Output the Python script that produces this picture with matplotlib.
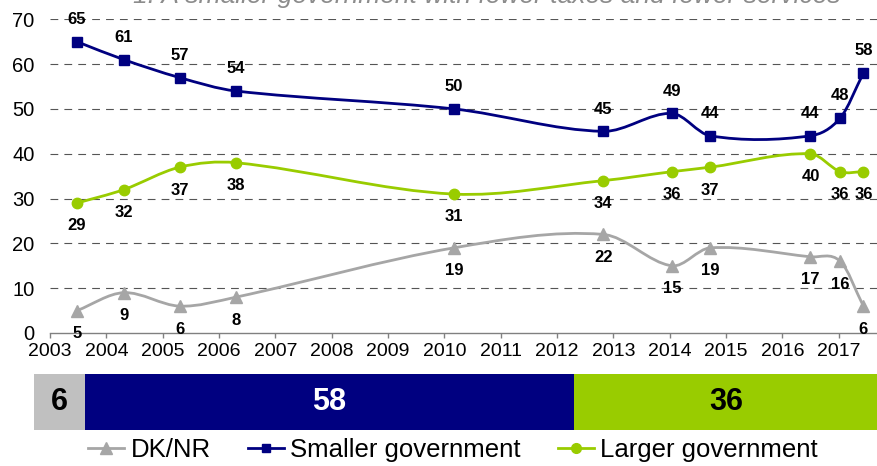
import numpy as np
import matplotlib.pyplot as plt
from matplotlib.path import Path
from matplotlib.patches import PathPatch
from matplotlib.lines import Line2D

plt.rcParams['font.family'] = ['Liberation Sans', 'DejaVu Sans']

# survey dates (decimal years) and shares (%)
dates = [2003.48, 2004.31, 2005.30, 2006.30, 2010.17, 2012.82,
         2014.04, 2014.72, 2016.50, 2017.03, 2017.44]
smaller = [65, 61, 57, 54, 50, 45, 49, 44, 44, 48, 58]
larger = [29, 32, 37, 38, 31, 34, 36, 37, 40, 36, 36]
dknr = [5, 9, 6, 8, 19, 22, 15, 19, 17, 16, 6]

years = list(range(2003, 2018))
yticks = [0, 10, 20, 30, 40, 50, 60, 70]

latest_labels = ["DK/NR", "Smaller government", "Larger government"]
latest_values = [6, 58, 36]

title = "1. A smaller government with fewer taxes and fewer services"

NAVY = "#000080"
GREEN = "#99CC00"
GREY = "#A6A6A6"


def smooth_path(x, y):
    # cubic bezier through the points (hermite tangents in x)
    x = np.asarray(x, float)
    y = np.asarray(y, float)
    n = len(x)
    m = np.zeros(n)
    for i in range(n):
        if i == 0:
            m[i] = (y[1] - y[0]) / (x[1] - x[0])
        elif i == n - 1:
            m[i] = (y[-1] - y[-2]) / (x[-1] - x[-2])
        else:
            m[i] = (y[i + 1] - y[i - 1]) / (x[i + 1] - x[i - 1])
    verts = [(x[0], y[0])]
    codes = [Path.MOVETO]
    for i in range(n - 1):
        h = x[i + 1] - x[i]
        verts += [(x[i] + h / 3, y[i] + m[i] * h / 3),
                  (x[i + 1] - h / 3, y[i + 1] - m[i + 1] * h / 3),
                  (x[i + 1], y[i + 1])]
        codes += [Path.CURVE4] * 3
    return Path(verts, codes)


fig = plt.figure(figsize=(8.78, 4.66), dpi=100)
ax = fig.add_axes([50 / 878, 1 - 333 / 466, 1 - 50 / 878 + 0.01, (333 - 19.3) / 466])

for yv in yticks[1:]:
    ax.axhline(yv, color="#555555", lw=0.8, linestyle=(0, (7, 5.5)), zorder=1)

series = [
    (dknr, GREY, "^", 9, -16.5),
    (smaller, NAVY, "s", 7, 16),
    (larger, GREEN, "o", 7.5, -16.5),
]
for vals, col, mk, ms, off in series:
    ax.add_patch(PathPatch(smooth_path(dates, vals), fill=False, edgecolor=col,
                           lw=2, zorder=3, clip_on=False))
    ax.plot(dates, vals, linestyle="none", marker=mk, markersize=ms, color=col,
            zorder=4, clip_on=False)
    for d, v in zip(dates, vals):
        ax.annotate(str(v), (d, v), xytext=(0, off), textcoords="offset points",
                    ha="center", va="center", fontsize=12, fontweight="bold",
                    color="black", zorder=5, annotation_clip=False)

ax.set_xlim(2003, 2003 + (878 - 50) / 56.5 + 0.2)
ax.set_ylim(0, 70)
ax.set_xticks(years)
ax.set_yticks(yticks)
ax.tick_params(axis="x", direction="out", length=3.5, width=1, color="#808080",
               labelsize=14, pad=3.5)
ax.tick_params(axis="y", length=0, labelsize=14.5, pad=11)
for s in ["top", "right", "left"]:
    ax.spines[s].set_visible(False)
ax.spines["bottom"].set_color("#808080")
ax.spines["bottom"].set_linewidth(1)
ax.patch.set_visible(False)

# latest result bar
bax = fig.add_axes([34 / 878, 1 - 430 / 466, 1 - 34 / 878, 56 / 466])
bar_colors = ["#C0C0C0", NAVY, GREEN]
text_colors = ["black", "white", "black"]
left = 0
for v, c, tc in zip(latest_values, bar_colors, text_colors):
    bax.barh(0, v, left=left, color=c, height=1)
    bax.text(left + v / 2, 0, str(v), ha="center", va="center", fontsize=22,
             fontweight="bold", color=tc)
    left += v
bax.set_xlim(0, 100)
bax.set_ylim(-0.5, 0.5)
bax.axis("off")

# legend entries
leg_x = [88, 248, 558]
handles = [
    Line2D([], [], color=GREY, marker="^", markersize=9, lw=2),
    Line2D([], [], color=NAVY, marker="s", markersize=6, lw=2),
    Line2D([], [], color=GREEN, marker="o", markersize=7, lw=2),
]
for h, lab, x in zip(handles, latest_labels, leg_x):
    fig.legend(handles=[h], labels=[lab], loc="center left",
               bbox_to_anchor=(x / 878, 1 - 450 / 466), frameon=False,
               borderpad=0, borderaxespad=0, handlelength=1.4,
               handletextpad=0.25, fontsize=18.5)

# title sits mostly above the top edge, as in the source image
fig.text(487 / 878, 1 - 3 / 466, title, ha="center", va="baseline",
         style="italic", color="#8c8c8c", fontsize=19)

fig.savefig("out.png", dpi=100)
